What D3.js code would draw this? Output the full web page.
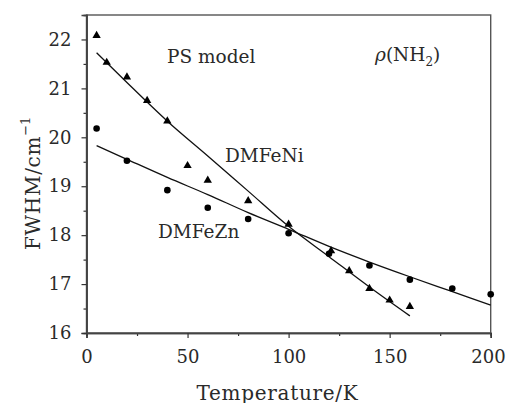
<!DOCTYPE html>
<html>
<head>
<meta charset="utf-8">
<script src="https://cdn.jsdelivr.net/npm/d3@7"></script>
<style>
    body { margin: 0; background: #fff; }
    .serif { font-family: "DejaVu Serif", serif; fill: #2a2a2a; }
</style>
</head>
<body>
<div id="data-viz"></div>
<script>
// measured points
const niTemps = [5, 10, 20, 30, 40, 50, 60, 80, 100, 121, 130, 140, 150, 160]
const niFwhm = [22.08, 21.53, 21.23, 20.75, 20.33, 19.42, 19.12, 18.7, 18.22, 17.68, 17.27, 16.91, 16.67, 16.54]
const znTemps = [5, 20, 40, 60, 80, 100, 120, 140, 160, 181, 200]
const znFwhm = [20.18, 19.52, 18.92, 18.56, 18.33, 18.04, 17.62, 17.38, 17.09, 16.91, 16.79]

// fitted curves
const niFitTemps = [5, 20, 40, 60, 80, 100, 120, 140, 160]
const niFitFwhm = [21.73, 21.12, 20.33, 19.62, 18.9, 18.18, 17.56, 16.94, 16.35]
const znFitTemps = [5, 20, 40, 60, 80, 100, 120, 140, 160, 180, 200]
const znFitFwhm = [19.83, 19.55, 19.18, 18.83, 18.46, 18.12, 17.77, 17.45, 17.15, 16.86, 16.57]

const xTicks = [0, 50, 100, 150, 200]
const yTicks = [16, 17, 18, 19, 20, 21, 22]

function drawChart() {
    const dimensions = {
        width: 507,
        height: 403,
        margin: { top: 15, right: 16.3, bottom: 70, left: 86.5 }
    }
    dimensions.boundedWidth = dimensions.width - dimensions.margin.left - dimensions.margin.right
    dimensions.boundedHeight = dimensions.height - dimensions.margin.top - dimensions.margin.bottom

    const wrapper = d3.select("#data-viz").append("svg")
        .attr("width", dimensions.width)
        .attr("height", dimensions.height)

    const chart = wrapper.append("g")
        .attr("transform", `translate(${dimensions.margin.left}, ${dimensions.margin.top})`)

    const xScale = d3.scaleLinear().domain([0, 200]).range([0, dimensions.boundedWidth])
    const yScale = d3.scaleLinear().domain([16, 22.5]).range([dimensions.boundedHeight, 0])

    // frame
    chart.append("rect")
        .attr("width", dimensions.boundedWidth)
        .attr("height", dimensions.boundedHeight)
        .attr("fill", "none")
        .attr("stroke", "#555")
        .attr("stroke-width", 1.4)

    // minor ticks first, then the main axis
    const xMinor = chart.append("g")
        .attr("transform", `translate(0, ${dimensions.boundedHeight})`)
        .call(d3.axisBottom(xScale).tickValues(d3.range(25, 200, 50)).tickSize(3).tickFormat(""))
    const xAxis = chart.append("g")
        .attr("transform", `translate(0, ${dimensions.boundedHeight})`)
        .call(d3.axisBottom(xScale).tickValues(xTicks).tickSize(5).tickPadding(12).tickFormat(d3.format("d")))
    const yMinor = chart.append("g")
        .call(d3.axisLeft(yScale).tickValues(d3.range(16.5, 22.6, 1)).tickSize(3).tickFormat(""))
    const yAxis = chart.append("g")
        .call(d3.axisLeft(yScale).tickValues(yTicks).tickSize(5).tickPadding(10).tickFormat(d3.format("d")))

    ;[xMinor, xAxis, yMinor, yAxis].forEach(ax => {
        ax.attr("font-family", null).attr("font-size", null)
        ax.select(".domain").attr("stroke", "#444").attr("stroke-width", 1.6)
        ax.selectAll(".tick line").attr("stroke", "#333").attr("stroke-width", 1.2)
        ax.selectAll(".tick text")
            .attr("class", "serif")
            .style("font-size", "18px")
            .attr("fill", "#2a2a2a")
    })
    xAxis.selectAll(".tick text").attr("dy", "0.71em")
    // last label would spill past the right edge
    xAxis.selectAll(".tick text").filter(d => d === 200)
        .attr("text-anchor", "end")
        .attr("x", 14.5)

    // fits
    const line = d3.line()
        .x(d => xScale(d[0]))
        .y(d => yScale(d[1]))
        .curve(d3.curveMonotoneX)

    chart.append("path")
        .datum(d3.zip(niFitTemps, niFitFwhm))
        .attr("d", line)
        .attr("fill", "none")
        .attr("stroke", "#111")
        .attr("stroke-width", 1.3)
    chart.append("path")
        .datum(d3.zip(znFitTemps, znFitFwhm))
        .attr("d", line)
        .attr("fill", "none")
        .attr("stroke", "#111")
        .attr("stroke-width", 1.3)

    // markers
    const triangle = d3.symbol().type(d3.symbolTriangle).size(30)
    chart.selectAll(".ni-point")
        .data(d3.zip(niTemps, niFwhm))
        .join("path")
        .attr("class", "ni-point")
        .attr("d", triangle)
        .attr("transform", d => `translate(${xScale(d[0])}, ${yScale(d[1])})`)
        .attr("fill", "#000")

    chart.selectAll(".zn-point")
        .data(d3.zip(znTemps, znFwhm))
        .join("circle")
        .attr("class", "zn-point")
        .attr("cx", d => xScale(d[0]))
        .attr("cy", d => yScale(d[1]))
        .attr("r", 3.3)
        .attr("fill", "#000")

    // annotations
    const labelStyle = sel => sel
        .attr("class", "serif")
        .style("font-size", "18.5px")
    wrapper.append("text").attr("x", 167).attr("y", 62.5).text("PS model").call(labelStyle)
    wrapper.append("text").attr("x", 225).attr("y", 161.5).text("DMFeNi").call(labelStyle)
    wrapper.append("text").attr("x", 158).attr("y", 237.5).text("DMFeZn").call(labelStyle)

    const rho = wrapper.append("text").attr("x", 375).attr("y", 61).call(labelStyle)
    rho.append("tspan").style("font-style", "italic").text("ρ")
    rho.append("tspan").text("(NH")
    rho.append("tspan").attr("dy", 5).style("font-size", "12px").text("2")
    rho.append("tspan").attr("dy", -5).text(")")

    // axis titles
    wrapper.append("text")
        .attr("class", "serif")
        .attr("x", 277.5)
        .attr("y", 399.5)
        .attr("text-anchor", "middle")
        .style("font-size", "20px")
        .style("letter-spacing", "0.7px")
        .text("Temperature/K")

    const yTitle = wrapper.append("text")
        .attr("class", "serif")
        .attr("transform", "translate(40, 250) rotate(-90)")
        .style("font-size", "20px")
        .style("letter-spacing", "0.7px")
    yTitle.append("tspan").text("FWHM/cm")
    yTitle.append("tspan").attr("dy", -10).style("font-size", "13px").style("letter-spacing", "0px").text("−1")
}

drawChart()
</script>
</body>
</html>
